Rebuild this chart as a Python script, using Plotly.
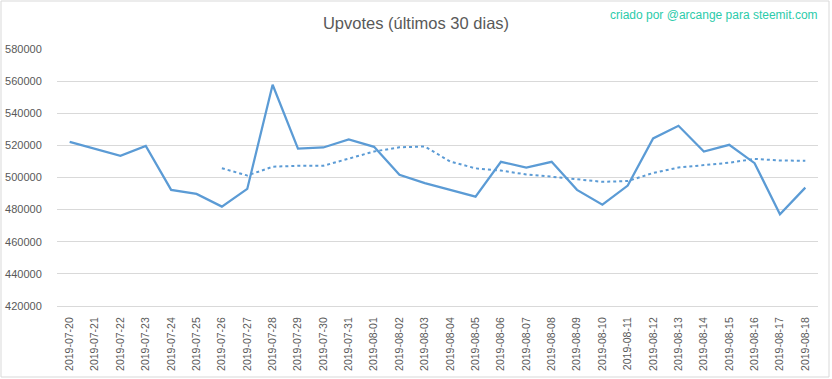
import plotly.graph_objects as go

dates = ["2019-07-20", "2019-07-21", "2019-07-22", "2019-07-23", "2019-07-24", "2019-07-25",
         "2019-07-26", "2019-07-27", "2019-07-28", "2019-07-29", "2019-07-30", "2019-07-31",
         "2019-08-01", "2019-08-02", "2019-08-03", "2019-08-04", "2019-08-05", "2019-08-06",
         "2019-08-07", "2019-08-08", "2019-08-09", "2019-08-10", "2019-08-11", "2019-08-12",
         "2019-08-13", "2019-08-14", "2019-08-15", "2019-08-16", "2019-08-17", "2019-08-18"]

upvotes = [522200, 518000, 513500, 519700, 492300, 489800, 481900, 492900, 557750, 518000,
           518700, 523700, 519100, 501650, 496500, 492300, 488100, 509750, 506200, 509750,
           492300, 483100, 495000, 524300, 532200, 516200, 520350, 508900, 477150, 493700]

# 7-day moving average trendline (starts at 2019-07-26)
trend_dates = dates[6:]
trend = [505800, 501200, 506700, 507300, 507300, 511800, 516200, 518800, 519300, 509950,
         505700, 504300, 501900, 500500, 499100, 497300, 497800, 502800, 506200, 507500,
         509200, 511600, 510600, 510400]

y_ticks = [420000, 440000, 460000, 480000, 500000, 520000, 540000, 560000, 580000]

title_text = "Upvotes (últimos 30 dias)"
credit_text = "criado por @arcange para steemit.com"

blue = "#5B9BD5"
grey_text = "#595959"
grid = "#D9D9D9"
font_family = "Liberation Sans"

fig = go.Figure()
fig.add_trace(go.Scatter(x=dates, y=upvotes, mode="lines",
                         line=dict(color=blue, width=2.25), hoverinfo="x+y"))
fig.add_trace(go.Scatter(x=trend_dates, y=trend, mode="lines",
                         line=dict(color=blue, width=2, dash="dot"), hoverinfo="x+y"))

W, H = 832, 379
L, R, T, B = 57, 14, 49, 73
pw, ph = W - L - R, H - T - B

fig.update_layout(
    width=W, height=H,
    margin=dict(l=L, r=R, t=T, b=B, autoexpand=False),
    paper_bgcolor="white", plot_bgcolor="white",
    showlegend=False,
    font=dict(family=font_family, color=grey_text),
    title=dict(text=title_text, x=0.5, xref="container", xanchor="center",
               y=1 - 23 / H, yref="container", yanchor="middle",
               font=dict(family=font_family, size=16.5, color=grey_text)),
    xaxis=dict(type="category", categoryorder="array", categoryarray=dates,
               range=[-0.5, len(dates) - 0.5], automargin=False,
               tickangle=-90, tickfont=dict(size=10.5, color=grey_text),
               showgrid=False, showline=True, linecolor=grid, linewidth=1,
               ticks="outside", ticklen=6, tickcolor="rgba(0,0,0,0)", zeroline=False),
    yaxis=dict(range=[420000, 580000], tickvals=y_ticks, automargin=False,
               ticktext=[str(v) for v in y_ticks],
               tickfont=dict(size=11, color=grey_text),
               showgrid=True, gridcolor=grid, gridwidth=1, zeroline=False,
               showline=False, ticks="outside", ticklen=12, tickcolor="rgba(0,0,0,0)"),
    annotations=[dict(text=credit_text, xref="paper", yref="paper",
                      x=(820 - L) / pw, y=1 + (T - 15) / ph, xanchor="right", yanchor="middle",
                      showarrow=False, font=dict(family=font_family, size=12, color="#2BCBAA"))],
    shapes=[dict(type="rect", xref="paper", yref="paper",
                 x0=(1 - L) / pw, x1=(829 - L) / pw,
                 y0=-(377 - (H - B)) / ph, y1=1 + (T - 1) / ph,
                 line=dict(color=grid, width=1), fillcolor="rgba(0,0,0,0)", layer="below")],
)

fig.write_html("out.html")
